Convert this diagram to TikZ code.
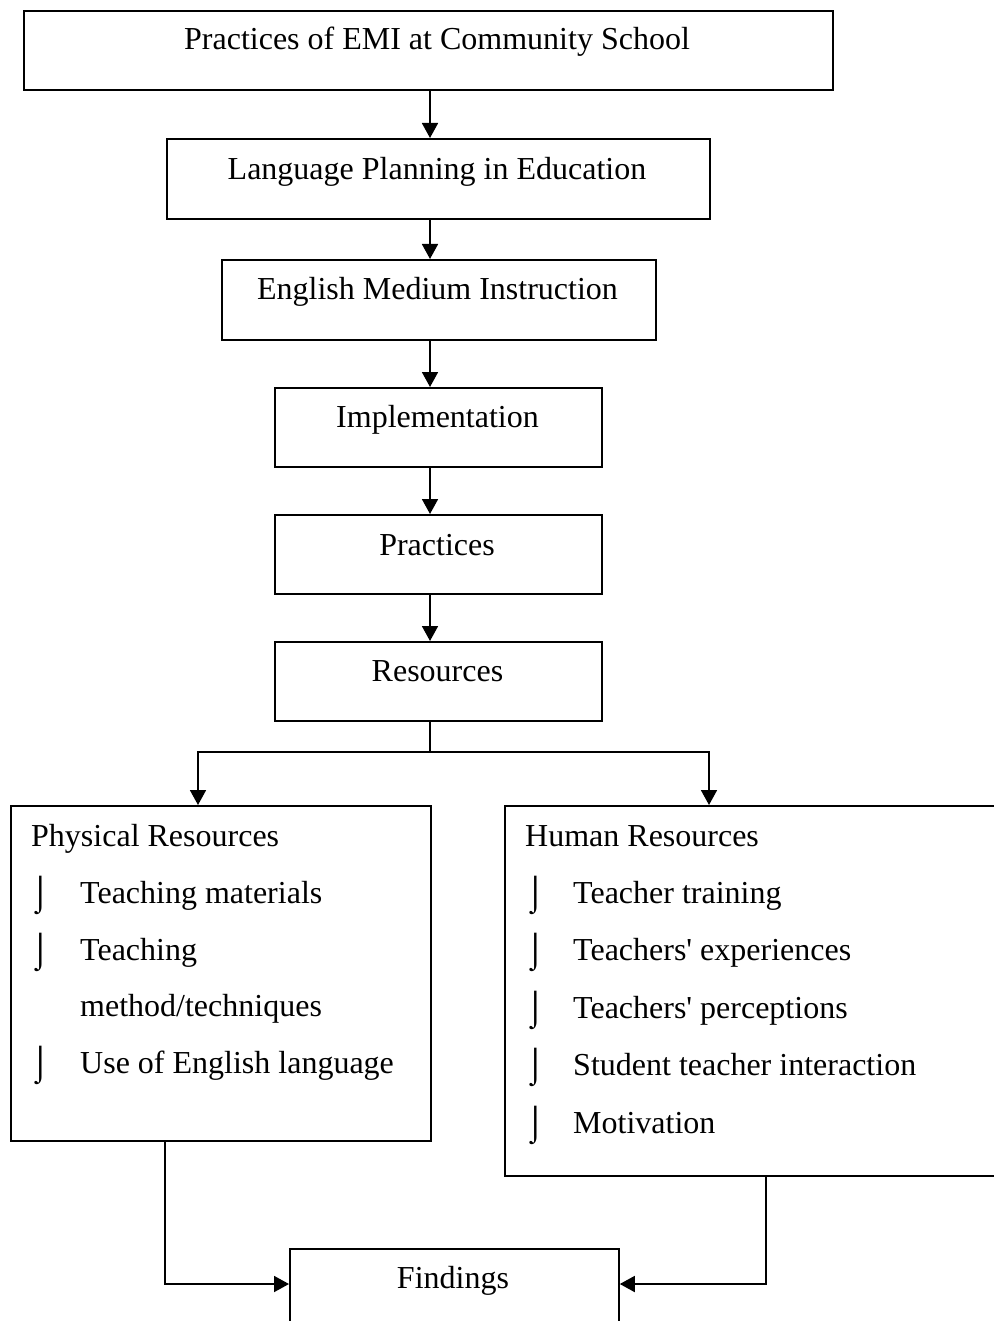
\documentclass[tikz,border=0pt]{standalone}
\usepackage{fontspec}
\setmainfont{Liberation Serif}
\newfontfamily\bulletfont{Liberation Serif}
\newfontfamily\quotefont{Liberation Serif}[Ligatures=TeXOff]
\usetikzlibrary{arrows.meta,positioning}

\tikzset{
  box/.style={draw, line width=1.8pt, inner sep=0pt, anchor=north west},
  txt/.style={anchor=base, inner sep=0pt, font=\fontsize{32}{38}\selectfont},
  itm/.style={anchor=base west, inner sep=0pt, font=\fontsize{32}{38}\selectfont},
  blt/.style={anchor=base west, inner sep=0pt, font=\bulletfont\fontsize{34}{40}\selectfont},
  arr/.style={line width=1.8pt, -{Triangle[length=15pt,width=16pt]}},
  ln/.style={line width=1.8pt}
}
\newcommand{\sq}{{\quotefont'}}

\begin{document}
\begin{tikzpicture}[x=1pt,y=-1pt]
\useasboundingbox (0,0) rectangle (993,1321);

% the chain of boxes
\node[box, minimum width=809pt, minimum height=79pt] (emi) at (23,10) {};
\node[box, minimum width=543pt, minimum height=80pt] (lpe) at (166,138) {};
\node[box, minimum width=434pt, minimum height=80pt] (medium) at (221,259) {};
\node[box, minimum width=327pt, minimum height=79pt] (impl) at (274,387) {};
\node[box, minimum width=327pt, minimum height=79pt] (prac) at (274,514) {};
\node[box, minimum width=327pt, minimum height=79pt] (res) at (274,641) {};
\node[box, minimum width=420pt, minimum height=335pt] (phys) at (10,805) {};
\node[box, minimum width=500pt, minimum height=370pt] (human) at (504,805) {};
\node[box, minimum width=329pt, minimum height=100pt] (find) at (289,1248) {};

\node[txt] (emit) at (437,50) {Practices of EMI at Community School};
\node[txt] (lpet) at (437,180) {Language Planning in Education};
\node[txt] (mediumt) at (437.5,300) {English Medium Instruction};
\node[txt] (implt) at (437.5,427) {Implementation};
\node[txt] (pract) at (437,555) {Practices};
\node[txt] (rest) at (437.5,681) {Resources};
\node[txt] (findt) at (453,1288) {Findings};

% physical resources
\node[itm] (physh) at (31,846) {Physical Resources};
\node[blt] (pb1) at (30,904) {⌡};
\node[itm] (p1) at (80,903) {Teaching materials};
\node[blt] (pb2) at (30,961) {⌡};
\node[itm] (p2) at (80,960) {Teaching};
\node[itm] (p2b) at (80,1016) {method/techniques};
\node[blt] (pb3) at (30,1074) {⌡};
\node[itm] (p3) at (80,1073) {Use of English language};

% human resources
\node[itm] (humh) at (525,846) {Human Resources};
\node[blt] (hb1) at (525,904) {⌡};
\node[itm] (h1) at (573,903) {Teacher training};
\node[blt] (hb2) at (525,961) {⌡};
\node[itm] (h2) at (573,960) {Teachers\sq{} experiences};
\node[blt] (hb3) at (525,1019) {⌡};
\node[itm] (h3) at (573,1018) {Teachers\sq{} perceptions};
\node[blt] (hb4) at (525,1076) {⌡};
\node[itm] (h4) at (573,1075) {Student teacher interaction};
\node[blt] (hb5) at (525,1134) {⌡};
\node[itm] (h5) at (573,1133) {Motivation};

% arrows
\draw[arr] (emi.south -| 430,0) -- (lpe.north -| 430,0);
\draw[arr] (lpe.south -| 430,0) -- (medium.north -| 430,0);
\draw[arr] (medium.south -| 430,0) -- (impl.north -| 430,0);
\draw[arr] (impl.south -| 430,0) -- (prac.north -| 430,0);
\draw[arr] (prac.south -| 430,0) -- (res.north -| 430,0);
\coordinate (split) at (430,752);
\draw[ln] (res.south -| split) -- (split);
\draw[arr] (split) -| (phys.north -| 198,0);
\draw[arr] (split) -| (human.north -| 709,0);
\draw[arr] (phys.south -| 165,0) |- (find.west |- 0,1284);
\draw[arr] (human.south -| 766,0) |- (find.east |- 0,1284);
\end{tikzpicture}
\end{document}
